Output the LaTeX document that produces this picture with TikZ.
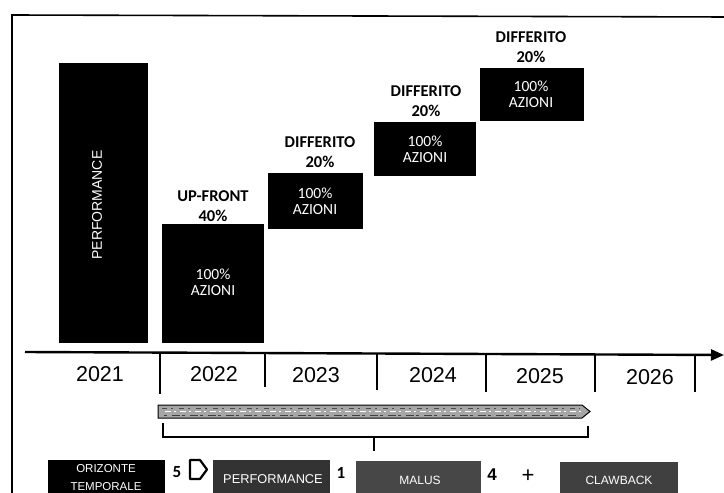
\documentclass[tikz,border=0pt]{standalone}
\usepackage{fontspec}
\setmainfont{Carlito}
\newfontfamily\arialf{Liberation Sans}
\usetikzlibrary{arrows.meta}
\begin{document}
\begin{tikzpicture}[x=1pt,y=-1pt,
  blk/.style={fill=black,inner sep=0,anchor=north west},
  lbl/.style={font=\bfseries\fontsize{16.5}{20}\selectfont,align=center,inner sep=0},
  intext/.style={text=white,font=\fontsize{15.5}{15}\selectfont,align=center,inner sep=0},
  yearlbl/.style={font=\arialf\fontsize{21.5}{22}\selectfont,inner sep=0},
  axtick/.style={line width=2.6pt},
  bot/.style={inner sep=0,anchor=north west,minimum height=40},
  bottext/.style={text=white,font=\arialf\fontsize{12}{14}\selectfont,inner sep=0},
  num/.style={font=\bfseries\fontsize{17}{18}\selectfont,inner sep=0}]
\clip (0,0) rectangle (724,493);
\fill[white] (0,0) rectangle (724,493);
% frame
\draw[line width=1.6pt] (12,500) -- (12,15) -- (730,17);

% top boxes
\node[blk,minimum width=89,minimum height=280] (perf) at (59,63) {};
\node[rotate=90,text=white,font=\arialf\fontsize{14}{16}\selectfont,inner sep=0] (perft) at (97,205) {PERFORMANCE};

\node[blk,minimum width=102,minimum height=119] (up) at (162,224) {};
\node[intext] (upt) at (213,282) {100\%\\[1pt]AZIONI};
\node[lbl] (upl) at (213,206) {UP-FRONT\\40\%};

\node[blk,minimum width=95,minimum height=56] (d23) at (268,173) {};
\node[intext] (d23t) at (315,201) {100\%\\[1pt]AZIONI};
\node[lbl] (d23l) at (320,152) {DIFFERITO\\20\%};

\node[blk,minimum width=102,minimum height=54] (d24) at (374,122) {};
\node[intext] (d24t) at (425,149) {100\%\\[1pt]AZIONI};
\node[lbl] (d24l) at (426,101) {DIFFERITO\\20\%};

\node[blk,minimum width=104,minimum height=53] (d25) at (480,68) {};
\node[intext] (d25t) at (531,94) {100\%\\[1pt]AZIONI};
\node[lbl] (d25l) at (531,47) {DIFFERITO\\20\%};

% axis
\coordinate (axs) at (25,352);
\coordinate (axe) at (724,355);
\draw[line width=2.4pt,-{Triangle[length=13pt,width=11pt]}] (axs) -- (axe);
\foreach \x/\a/\b in {160/352/394,265/353/387,377/353/390,486/354/392,595/355/392,695/356/392}
  \draw[axtick] (\x,\a) -- (\x,\b);

% years
\node[yearlbl] (y21) at (100,374) {2021};
\node[yearlbl] (y22) at (214,374) {2022};
\node[yearlbl] (y23) at (316,375) {2023};
\node[yearlbl] (y24) at (433,375) {2024};
\node[yearlbl] (y25) at (540,376) {2025};
\node[yearlbl] (y26) at (650,377) {2026};

% band arrow
\filldraw[fill=black!35,draw=black,line width=1pt] (158,405) -- (582,405) -- (590,411.5) -- (582,418) -- (158,418) -- cycle;
\draw[black!70,line width=1.2pt,dash pattern=on 5pt off 4pt on 2pt off 6pt] (162,408.5) -- (580,408.5);
\draw[white,line width=1pt,dash pattern=on 6pt off 3pt on 2pt off 4pt] (165,411.5) -- (582,411.5);
\draw[black!75,line width=0.9pt,dash pattern=on 3pt off 5pt on 8pt off 2pt] (164,415) -- (578,415);

% bracket
\coordinate (bl) at (163,423);
\coordinate (br) at (588,426);
\coordinate (bm) at (374,437);
\coordinate (bd) at (374,451);
\draw[line width=2pt] (bl) -- (163,437) -- (588,437) -- (br);
\draw[line width=2.4pt] (bm) -- (bd);

% bottom row
\node[bot,fill=black,minimum width=117] (oriz) at (48,460) {};
\node[text=white,font=\arialf\fontsize{11.5}{18}\selectfont,align=center,inner sep=0] (orizt) at (106,478) {ORIZONTE\\TEMPORALE};
\node[num] (n5) at (177,472) {5};
\draw[line width=2.2pt,line join=round] (190,460) -- (200,460) -- (207,469.5) -- (200,479) -- (190,479) -- cycle;
\node[bot,fill=black!80,minimum width=117] (pbox) at (213,460) {};
\node[bottext,font=\arialf\fontsize{12.8}{14}\selectfont] (pboxt) at (273,479) {PERFORMANCE};
\node[num] (n1) at (341,473) {1};
\node[bot,fill=black!72,minimum width=125] (mbox) at (356,461) {};
\node[bottext] (mboxt) at (420,480) {MALUS};
\node[num,font=\arialf\bfseries\fontsize{17}{18}\selectfont] (n4) at (492,475) {4};
\node[font=\arialf\fontsize{22}{22}\selectfont,inner sep=0] (plus) at (528,476) {+};
\node[bot,fill=black!75,minimum width=118] (cbox) at (560,462) {};
\node[bottext] (cboxt) at (619,480) {CLAWBACK};
\end{tikzpicture}
\end{document}
